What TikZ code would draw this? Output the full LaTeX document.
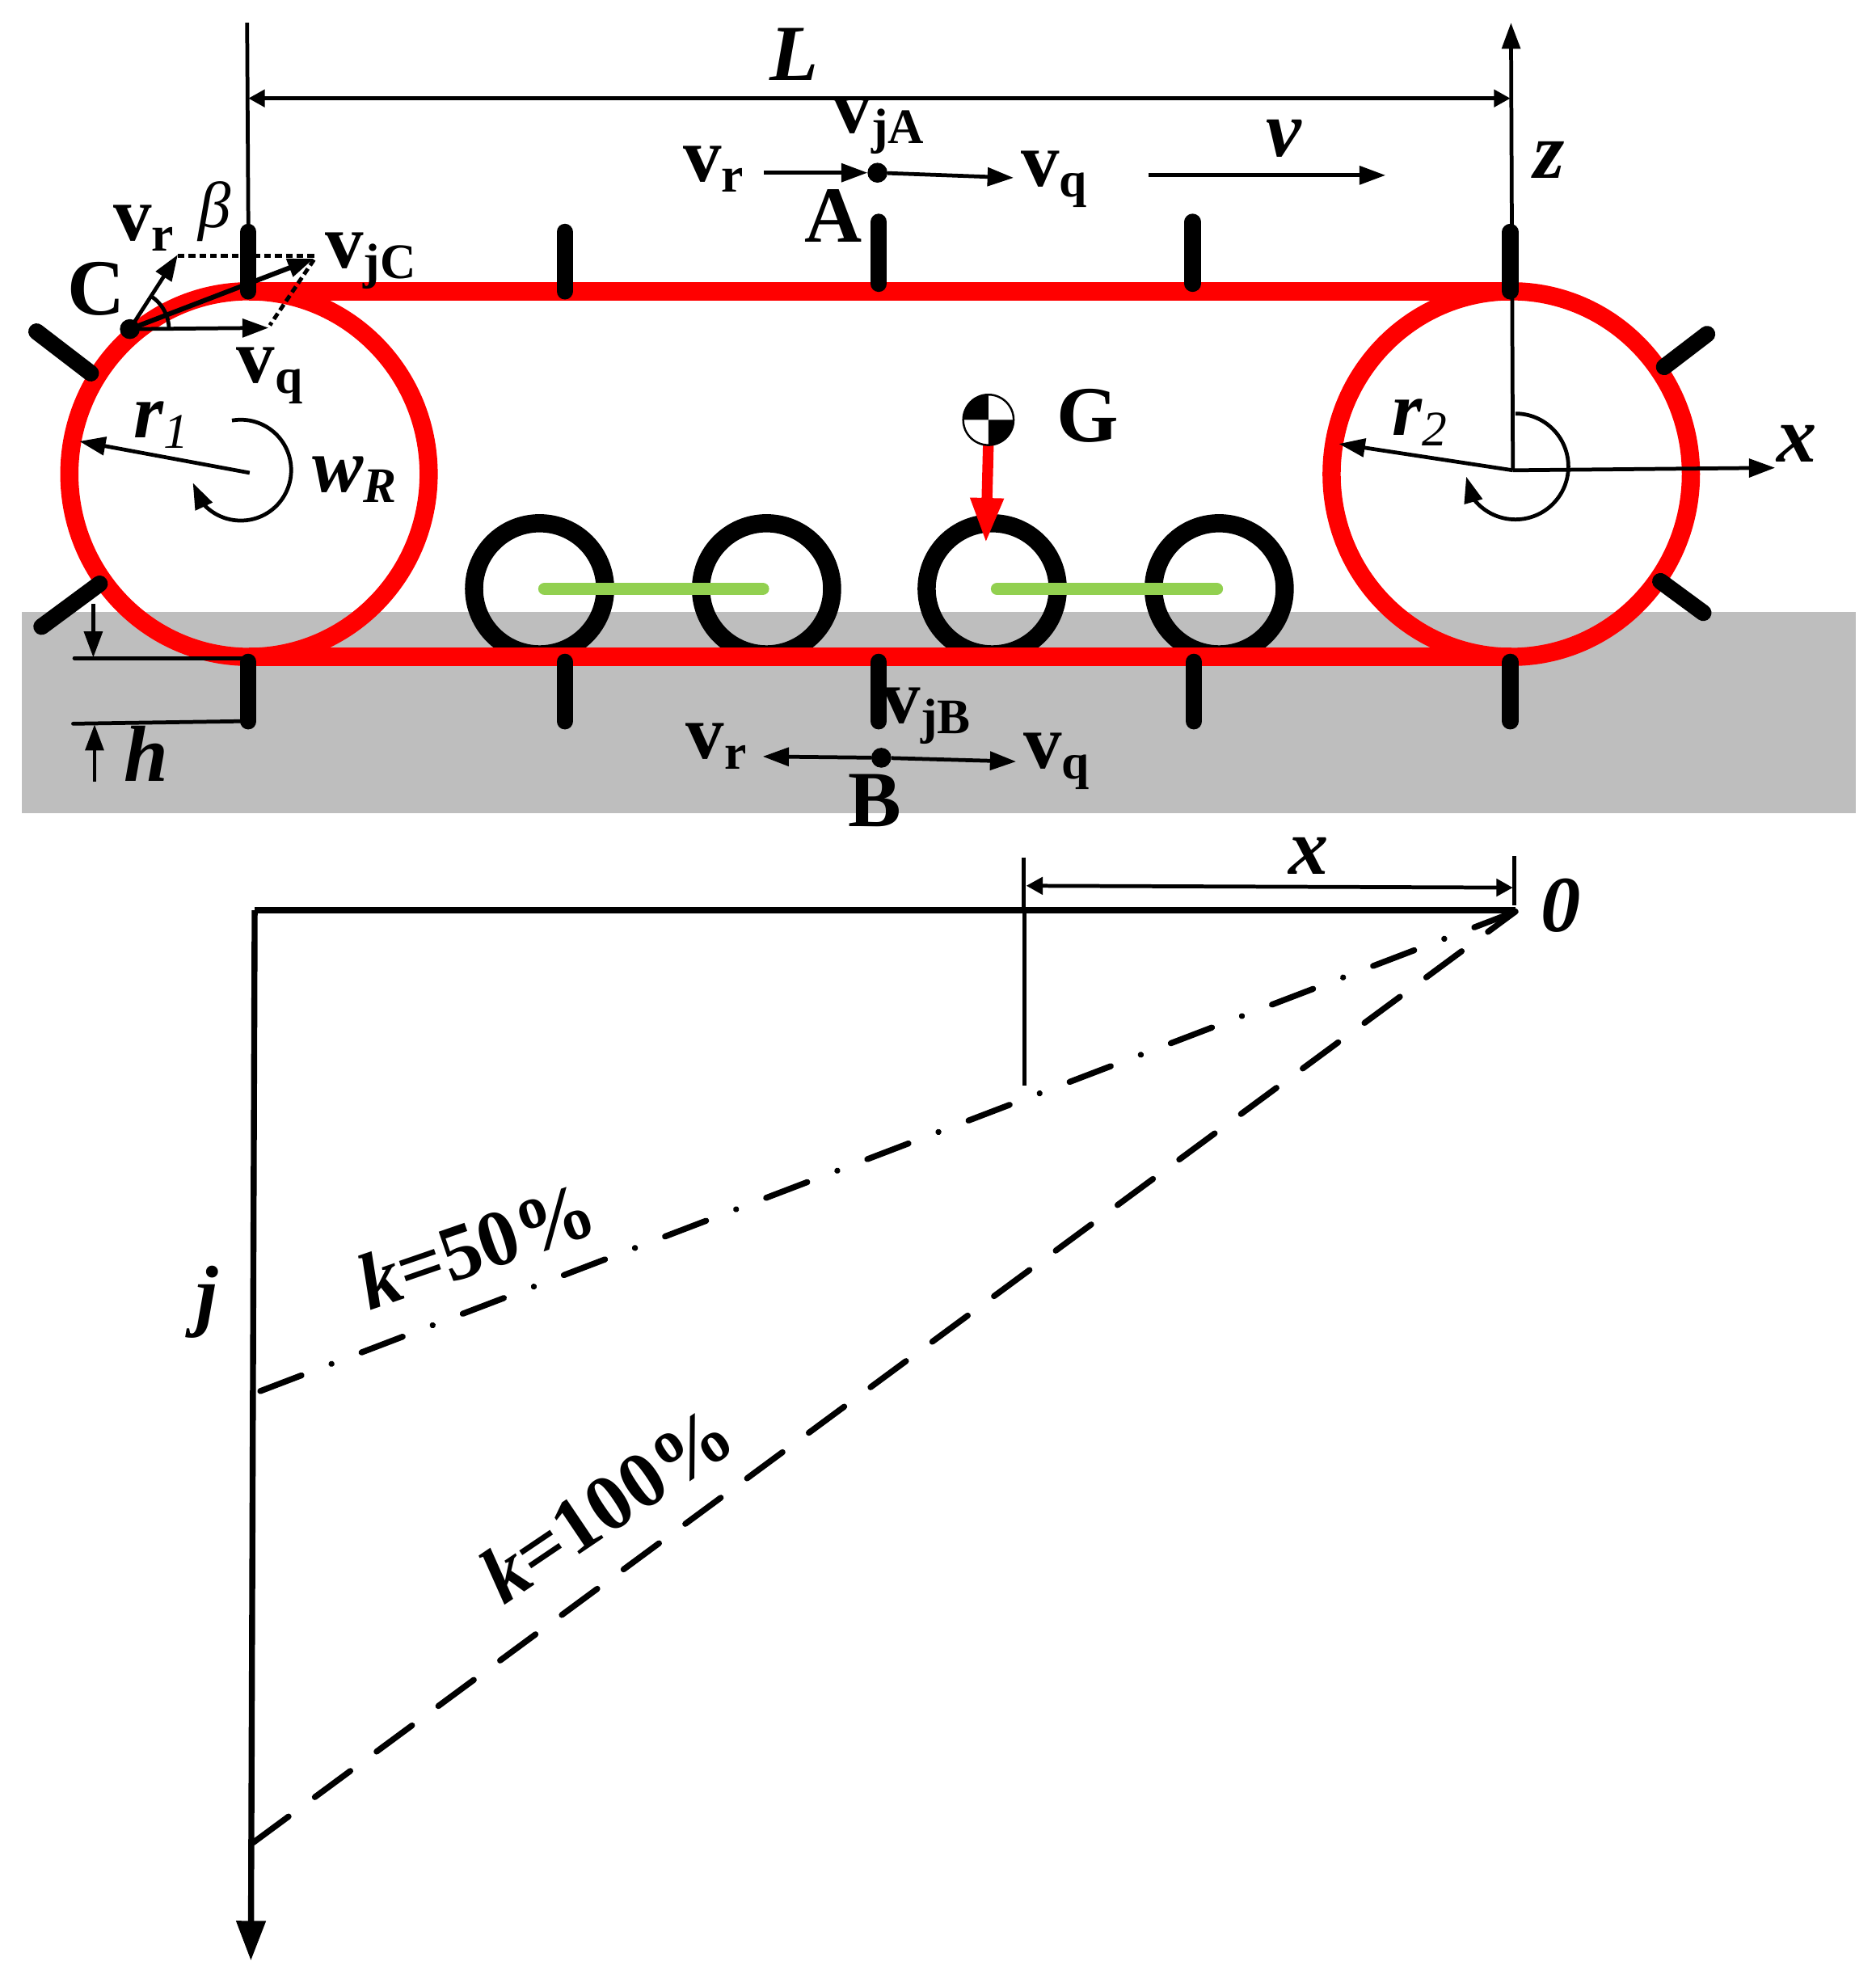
\documentclass[tikz,border=0pt]{standalone}
\usepackage{fontspec}
\setmainfont{Liberation Serif}
\usetikzlibrary{arrows.meta}
\definecolor{belt}{RGB}{255,0,0}
\definecolor{ground}{RGB}{190,190,190}
\definecolor{beam}{RGB}{146,208,80}
\newcommand{\bigb}{\fontsize{28}{30}\selectfont\bfseries}
\newcommand{\bigi}{\fontsize{28}{30}\selectfont\bfseries\itshape}
\newcommand{\vsub}[1]{{\fontsize{27}{27}\selectfont\bfseries v}\raisebox{-3.7pt}{\fontsize{17.5}{18}\selectfont\bfseries #1}}
\newcommand{\isub}[2]{{\fontsize{27}{27}\selectfont\bfseries\itshape #1}\raisebox{-3.7pt}{\fontsize{17.5}{18}\selectfont\itshape #2}}
\tikzset{
  x=0.015598cm,y=-0.015598cm,
  lab/.style={inner sep=0pt,outer sep=0pt,anchor=center},
  thinl/.style={line width=1.35pt,black},
  thickl/.style={line width=2.1pt,black},
  bigarr/.style={-{Triangle[length=9.2pt,width=6.4pt]}},
  smallarr/.style={{Triangle[length=5.8pt,width=6pt]}-{Triangle[length=5.8pt,width=6pt]}},
  grouser/.style={line width=5.8pt,black,line cap=round},
  beltl/.style={line width=6.4pt,belt},
  roller/.style={line width=6.4pt,black},
  beambar/.style={line width=4.5pt,beam,line cap=round},
  dotp/.style={fill=black,draw=none,circle,minimum size=7pt,inner sep=0pt,outer sep=0pt},
}
\begin{document}
\begin{tikzpicture}
\useasboundingbox (0,0) rectangle (1488,1568.8);
% ground
\fill[ground] (17,485) rectangle (1472,645);
% road wheels
\draw[roller] (428,467) circle [radius=52];
\draw[roller] (608,467) circle [radius=52];
\draw[roller] (787,467) circle [radius=52];
\draw[roller] (967,467) circle [radius=52];
\draw[beambar] (432,467) -- (605,467);
\draw[beambar] (791,467) -- (965,467);
% track
\draw[beltl] (197.5,376) ellipse [x radius=142.5,y radius=145];
\draw[beltl] (1198.7,376) ellipse [x radius=142.5,y radius=145];
\draw[beltl] (197.5,231) -- (1198.7,231);
\draw[beltl] (197.5,521) -- (1198.7,521);
% grousers
\draw[grouser] (197,184) -- (197,231);
\draw[grouser] (448,184) -- (448,231);
\draw[grouser] (697,176) -- (697,225);
\draw[grouser] (946,176) -- (946,225);
\draw[grouser] (1198,184) -- (1198,231);
\draw[grouser] (197,525) -- (197,572);
\draw[grouser] (448,525) -- (448,572);
\draw[grouser] (697,525) -- (697,572);
\draw[grouser] (947,525) -- (947,572);
\draw[grouser] (1198,525) -- (1198,572);
\draw[grouser] (29,263) -- (72,296);
\draw[grouser] (33,497) -- (79,463);
\draw[grouser] (1354,265) -- (1320,291);
\draw[grouser] (1317,461) -- (1351,486);
% upper dimension lines and axes
\draw[thinl] (196,18) -- (197,184);
\draw[thinl,bigarr] (1200,372) -- (1198.5,18);
\draw[thinl,smallarr] (197,78) -- (1198,78);
\draw[thinl,bigarr] (1200,373) -- (1408,371);
\draw[thinl,bigarr] (1200,373) -- (1062,352);
\draw[thinl,bigarr] (198,375) -- (63,350);
\draw[thinl,bigarr] (184,333.5) arc [start angle=-100,end angle=140,radius=40] -- (153,383);
\draw[thinl,bigarr] (1202,328) arc [start angle=-90,end angle=145,radius=42] -- (1163,378);
% point C
\draw[thinl,bigarr] (103,261) -- (141,202);
\draw[thinl,bigarr] (103,261) -- (213,260);
\draw[line width=1.7pt,bigarr] (103,261) -- (249,205);
\draw[line width=1.4pt,dash pattern=on 2.4pt off 1.4pt] (141,203) -- (250,203) ;
\draw[line width=1.4pt,dash pattern=on 2.4pt off 1.4pt] (249,206) -- (214,258);
\draw[thinl] (134,261) arc [start angle=0,end angle=-57,radius=31];
\node[dotp] (C) at (103,261) {};
% point A
\node[dotp] (A) at (696,137) {};
\coordinate (Al) at (606,137);
\coordinate (Ar) at (804,141);
\coordinate (vs) at (911,139);
\coordinate (ve) at (1099,139);
\draw[thinl,bigarr] (Al) -- (A);
\draw[thinl,bigarr] (A) -- (Ar);
\draw[thinl,bigarr] (vs) -- (ve);
% point B
\node[dotp] (B) at (699,601) {};
\coordinate (Bl) at (605,600);
\coordinate (Br) at (806,604);
\draw[thinl,bigarr] (B) -- (Bl);
\draw[thinl,bigarr] (B) -- (Br);
% h dimension
\draw[thinl,line cap=round] (59,522) -- (197,522);
\draw[thinl,line cap=round] (58,574) -- (192,572);
\draw[thinl,bigarr] (74,479) -- (74,521.5);
\draw[thinl,bigarr] (75,620) -- (75,574.5);
% centre of gravity
\draw[red,line width=3.8pt,-{Triangle[length=16pt,width=10.8pt]}] (784,350) -- (782,431);
\fill[white] (784,333) circle [radius=20.3];
\fill[black] (784,333) -- (764,333) arc [start angle=180,end angle=270,radius=20] -- cycle;
\fill[black] (784,333) -- (804,333) arc [start angle=0,end angle=90,radius=20] -- cycle;
\draw[line width=0.7pt] (784,333) circle [radius=20];
% lower diagram
\draw[thickl] (202,722) -- (1202,722);
\draw[thickl,-{Triangle[length=14pt,width=10pt]}] (202,722) -- (199,1555);
\draw[thinl] (812,680) -- (812,719);
\draw[thinl] (812.5,722) -- (812.5,861);
\draw[thinl] (1201,679) -- (1201,718);
\draw[thinl,smallarr] (814,702.5) -- (1200,704);
\draw[thickl,line cap=round,dash pattern=on 15.5pt off 11.3pt on 0.01pt off 11.3pt] (1202,723) -- (202,1105);
\draw[thickl,line cap=round,dash pattern=on 15.5pt off 11.5pt,dash phase=3.5pt] (1202,723) -- (200,1462);
% labels
\node[lab,font=\bigi] (tL) at (630,43) {L};
\node[lab] (tvjA) at (697,100) {\vsub{jA}};
\node[lab] (tvrA) at (566,134) {\vsub{r}};
\node[lab,font=\bigb] (tA) at (661,171) {A};
\node[lab] (tvqA) at (836,142) {\vsub{q}};
\node[lab,font=\bigi] (tv) at (1018,110) {v};
\node[lab,font=\bigi] (tz) at (1229,127) {z};
\node[lab,font=\fontsize{23}{24}\selectfont\itshape] (tbeta) at (170,168) {β};
\node[lab] (tvrC) at (114,181) {\vsub{r}};
\node[lab,font=\bigb] (tC) at (76,229) {C};
\node[lab] (tvjC) at (294,207) {\vsub{jC}};
\node[lab] (tvqC) at (214,298) {\vsub{q}};
\node[lab] (tr1) at (128,337) {\isub{r}{1}};
\node[lab] (twR) at (281,380) {\isub{w}{\bfseries R}};
\node[lab,font=\bigb] (tG) at (863,330) {G};
\node[lab] (tr2) at (1126,335) {\isub{r}{2}};
\node[lab,font=\bigi] (tx) at (1425,352) {x};
\node[lab,font=\bigi] (th) at (116,598) {h};
\node[lab] (tvjB) at (735,568) {\vsub{jB}};
\node[lab] (tvrB) at (568,592) {\vsub{r}};
\node[lab,font=\bigb] (tB) at (694,635) {B};
\node[lab] (tvqB) at (838,604) {\vsub{q}};
\node[lab,font=\bigi] (tx2) at (1038,679) {x};
\node[lab,font=\bigi] (t0) at (1238,718) {0};
\node[lab,font=\bigi] (tj) at (164,1033) {j};
\node[lab,font=\bigb,rotate=19] (tk50) at (378,988) {\textit{k}=50\%};
\node[lab,font=\bigb,rotate=34] (tk100) at (481,1193) {\textit{k}=100\%};
\end{tikzpicture}
\end{document}
